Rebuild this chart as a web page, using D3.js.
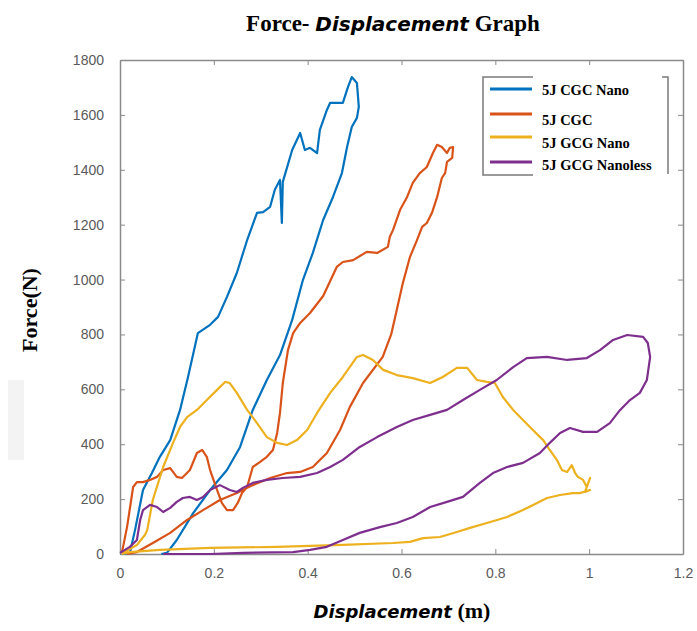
<!DOCTYPE html>
<html>
<head>
<meta charset="utf-8">
<script src="https://cdn.jsdelivr.net/npm/d3@7"></script>
<style>
  body { margin: 0; background: #fff; }
  .line { fill: none; stroke-width: 2.2; stroke-linejoin: round; }
  .tick-label { font-family: "Liberation Sans", Arial, sans-serif; font-size: 14px; fill: #5a5a5a; }
  .serif-bold { font-family: "Liberation Serif", "Times New Roman", serif; font-weight: bold; }
  .sans-italic { font-family: "DejaVu Sans", Verdana, sans-serif; font-weight: bold; font-style: italic; }
</style>
</head>
<body>
<div id="chart"></div>
<script>
// x ticks, y ticks
const xTicks = [0, 0.2, 0.4, 0.6, 0.8, 1, 1.2];
const yTicks = [0, 200, 400, 600, 800, 1000, 1200, 1400, 1600, 1800];

const seriesNames = ['5J CGC Nano', '5J CGC', '5J GCG Nano', '5J GCG Nanoless'];
const seriesColors = ['#0072BD', '#D95319', '#EDB120', '#7E2F8E'];

// [displacement (m), force (N)]
const cgcNano = [
  [0.004, 0], [0.021, 4], [0.032, 87], [0.049, 233], [0.068, 295], [0.085, 354],
  [0.107, 415], [0.128, 525], [0.145, 645], [0.166, 805], [0.192, 835], [0.209, 864],
  [0.228, 937], [0.249, 1024], [0.271, 1144], [0.292, 1243], [0.305, 1246], [0.320, 1265],
  [0.330, 1327], [0.341, 1363], [0.345, 1206], [0.347, 1356], [0.367, 1472], [0.384, 1534],
  [0.394, 1472], [0.405, 1480], [0.420, 1461], [0.426, 1545], [0.441, 1618], [0.448, 1644],
  [0.475, 1644], [0.486, 1702], [0.494, 1738], [0.505, 1716], [0.509, 1629],
  [0.505, 1589], [0.494, 1556], [0.484, 1483], [0.473, 1388], [0.454, 1301], [0.433, 1217],
  [0.411, 1097], [0.390, 999], [0.367, 853], [0.341, 725], [0.313, 634], [0.283, 525],
  [0.256, 390], [0.228, 306], [0.192, 233], [0.156, 149], [0.121, 51], [0.100, 4], [0.088, 0]
];

const cgc = [
  [0.004, 4], [0.015, 98], [0.028, 244], [0.036, 262], [0.049, 262], [0.064, 270],
  [0.079, 281], [0.092, 306], [0.107, 313], [0.121, 281], [0.132, 277], [0.149, 306],
  [0.164, 368], [0.175, 379], [0.185, 354], [0.192, 306], [0.207, 233], [0.217, 186],
  [0.228, 160], [0.241, 160], [0.251, 186], [0.260, 222], [0.271, 244], [0.283, 317],
  [0.298, 335], [0.313, 354], [0.326, 379], [0.335, 441], [0.341, 514], [0.347, 623],
  [0.358, 743], [0.369, 805], [0.384, 842], [0.405, 878], [0.433, 940], [0.462, 1046],
  [0.475, 1064], [0.497, 1071], [0.526, 1101], [0.548, 1097], [0.571, 1119], [0.575, 1155],
  [0.582, 1181], [0.597, 1254], [0.612, 1301], [0.624, 1352], [0.639, 1388], [0.654, 1410],
  [0.667, 1461], [0.676, 1491], [0.686, 1483], [0.697, 1461], [0.703, 1480], [0.710, 1483],
  [0.708, 1443], [0.697, 1429], [0.693, 1388], [0.686, 1370], [0.676, 1301], [0.665, 1243],
  [0.654, 1206], [0.644, 1192], [0.633, 1144], [0.618, 1082], [0.603, 988], [0.590, 890],
  [0.578, 800], [0.560, 718], [0.518, 623], [0.490, 536], [0.469, 452], [0.441, 368],
  [0.411, 317], [0.384, 299], [0.356, 295], [0.320, 277], [0.283, 251], [0.249, 222],
  [0.213, 197], [0.177, 160], [0.143, 124], [0.107, 77], [0.070, 40], [0.036, 7], [0.015, 0]
];

const gcgNano = [
  [0.006, 4], [0.036, 33], [0.053, 69], [0.058, 87], [0.070, 197], [0.092, 317],
  [0.113, 405], [0.128, 463], [0.143, 499], [0.164, 525], [0.185, 561], [0.207, 598],
  [0.224, 627], [0.234, 623], [0.249, 587], [0.271, 525], [0.292, 477], [0.313, 426],
  [0.335, 405], [0.356, 397], [0.377, 415], [0.399, 452], [0.420, 514], [0.448, 587],
  [0.475, 645], [0.505, 718], [0.518, 725], [0.539, 707], [0.561, 671], [0.590, 652],
  [0.624, 641], [0.661, 623], [0.688, 645], [0.718, 678], [0.740, 678], [0.761, 634],
  [0.782, 627], [0.799, 623], [0.816, 572], [0.838, 525], [0.859, 488], [0.880, 452],
  [0.902, 415], [0.916, 379], [0.931, 343], [0.942, 306], [0.953, 299], [0.963, 324],
  [0.970, 295], [0.976, 281], [0.987, 270], [0.995, 244], [1.002, 277], [0.991, 226],
  [1.002, 233], [0.980, 222], [0.965, 222], [0.938, 215], [0.910, 204], [0.889, 186],
  [0.859, 160], [0.825, 135], [0.782, 113], [0.746, 95], [0.718, 80], [0.682, 62],
  [0.646, 58], [0.618, 44], [0.582, 40], [0.475, 33], [0.335, 26], [0.192, 22],
  [0.085, 15], [0.021, 7], [0.004, 0]
];

const gcgNanoless = [
  [0.000, 4], [0.021, 26], [0.036, 51], [0.043, 124], [0.049, 160], [0.064, 179],
  [0.079, 171], [0.092, 153], [0.107, 168], [0.121, 190], [0.134, 204], [0.149, 208],
  [0.164, 197], [0.177, 208], [0.192, 233], [0.213, 251], [0.234, 233], [0.249, 226],
  [0.262, 241], [0.283, 259], [0.313, 270], [0.347, 277], [0.384, 281], [0.420, 295],
  [0.448, 317], [0.475, 343], [0.511, 390], [0.548, 426], [0.590, 463], [0.624, 488],
  [0.661, 507], [0.697, 525], [0.731, 561], [0.767, 598], [0.803, 634], [0.838, 681],
  [0.867, 714], [0.910, 718], [0.953, 707], [0.995, 714], [1.023, 743], [1.051, 780],
  [1.081, 798], [1.115, 791], [1.125, 769], [1.130, 718], [1.123, 634], [1.108, 587],
  [1.087, 561], [1.066, 525], [1.044, 477], [1.017, 445], [0.987, 445], [0.959, 459],
  [0.938, 441], [0.916, 405], [0.895, 368], [0.859, 332], [0.825, 317], [0.795, 295],
  [0.767, 259], [0.731, 208], [0.697, 190], [0.661, 171], [0.624, 135], [0.590, 113],
  [0.554, 98], [0.511, 77], [0.475, 51], [0.441, 26], [0.405, 15], [0.369, 7],
  [0.262, 4], [0.192, 0], [0.121, 0], [0.092, 0]
];

const seriesData = [cgcNano, cgc, gcgNano, gcgNanoless];

class ForceDisplacementChart {

    constructor(_config) {
        this.config = {
            parentElement: _config.parentElement,
            containerWidth: _config.containerWidth || 697,
            containerHeight: _config.containerHeight || 631,
            margin: _config.margin || { top: 60, right: 14, bottom: 77, left: 120 }
        };
        this.initVis();
    }

    /**
     * scales, svg and static text
     */
    initVis() {
        let vis = this;

        vis.width = vis.config.containerWidth - vis.config.margin.left - vis.config.margin.right;
        vis.height = vis.config.containerHeight - vis.config.margin.top - vis.config.margin.bottom;

        vis.svg = d3.select(vis.config.parentElement)
            .append('svg')
            .attr('width', vis.config.containerWidth)
            .attr('height', vis.config.containerHeight);

        vis.chart = vis.svg.append('g')
            .attr('transform', `translate(${vis.config.margin.left},${vis.config.margin.top})`);

        vis.xScale = d3.scaleLinear().domain([0, 1.2]).range([0, vis.width]);
        vis.yScale = d3.scaleLinear().domain([0, 1800]).range([vis.height, 0]);

        vis.line = d3.line()
            .x(d => vis.xScale(d[0]))
            .y(d => vis.yScale(d[1]));

        // faint smudge at the left edge of the original
        vis.svg.append('rect')
            .attr('x', 8).attr('y', 380).attr('width', 16).attr('height', 80)
            .attr('fill', '#f3f3f3');

        let title = vis.svg.append('text')
            .attr('x', 393)
            .attr('y', 31)
            .attr('text-anchor', 'middle')
            .style('font-size', '23px');
        title.append('tspan').attr('class', 'serif-bold').text('Force- ');
        title.append('tspan').attr('class', 'sans-italic').style('font-size', '20px').text('Displacement');
        title.append('tspan').attr('class', 'serif-bold').text(' Graph');

        let xLabel = vis.svg.append('text')
            .attr('x', 402)
            .attr('y', 618)
            .attr('text-anchor', 'middle');
        xLabel.append('tspan').attr('class', 'sans-italic').style('font-size', '18px').text('Displacement');
        xLabel.append('tspan').attr('class', 'serif-bold').style('font-size', '22px').text(' (m)');

        vis.svg.append('text')
            .attr('class', 'serif-bold')
            .attr('transform', 'translate(37,310) rotate(-90)')
            .attr('text-anchor', 'middle')
            .style('font-size', '22px')
            .text('Force(N)');
    }

    renderVis() {
        let vis = this;
        const axisColor = '#8a8a8a';

        // box with inward ticks on all four sides
        vis.chart.append('g')
            .attr('transform', `translate(0,${vis.height})`)
            .call(d3.axisBottom(vis.xScale).tickValues(xTicks).tickSizeInner(-5).tickSizeOuter(0).tickFormat(d3.format('')).tickPadding(14))
            .call(g => g.select('.domain').attr('stroke', axisColor).attr('stroke-width', 1.5))
            .call(g => g.selectAll('.tick line').attr('stroke', axisColor))
            .call(g => g.selectAll('.tick text').attr('class', 'tick-label'));

        vis.chart.append('g')
            .call(d3.axisTop(vis.xScale).tickValues(xTicks).tickSizeInner(-5).tickSizeOuter(0).tickFormat(''))
            .call(g => g.select('.domain').attr('stroke', axisColor).attr('stroke-width', 1.5))
            .call(g => g.selectAll('.tick line').attr('stroke', axisColor));

        vis.chart.append('g')
            .call(d3.axisLeft(vis.yScale).tickValues(yTicks).tickSizeInner(-5).tickSizeOuter(0).tickFormat(d3.format('d')).tickPadding(16))
            .call(g => g.select('.domain').attr('stroke', axisColor).attr('stroke-width', 1.5))
            .call(g => g.selectAll('.tick line').attr('stroke', axisColor))
            .call(g => g.selectAll('.tick text').attr('class', 'tick-label'));

        vis.chart.append('g')
            .attr('transform', `translate(${vis.width},0)`)
            .call(d3.axisRight(vis.yScale).tickValues(yTicks).tickSizeInner(-5).tickSizeOuter(0).tickFormat(''))
            .call(g => g.select('.domain').attr('stroke', axisColor).attr('stroke-width', 1.5))
            .call(g => g.selectAll('.tick line').attr('stroke', axisColor));

        vis.chart.selectAll('.line.series')
            .data(seriesData)
            .join('path')
            .attr('class', 'line series')
            .attr('d', vis.line)
            .style('stroke', (d, i) => seriesColors[i]);

        // legend, drawn as two brackets like the pasted image
        let legend = vis.svg.append('g');
        legend.append('path')
            .attr('d', 'M533,77 H483 V175 H533')
            .attr('fill', 'none').attr('stroke', '#7a7a7a').attr('stroke-width', 1.5);
        legend.append('path')
            .attr('d', 'M662,77 H668 V174')
            .attr('fill', 'none').attr('stroke', '#7a7a7a').attr('stroke-width', 1.5);

        const lineY = [89, 114, 137, 162];
        const textY = [95, 125, 148, 170];
        seriesNames.forEach((name, i) => {
            legend.append('line')
                .attr('x1', 490).attr('x2', 532)
                .attr('y1', lineY[i]).attr('y2', lineY[i])
                .attr('stroke', seriesColors[i]).attr('stroke-width', 3);
            legend.append('text')
                .attr('class', 'serif-bold')
                .attr('x', 542).attr('y', textY[i])
                .style('font-size', '14.5px')
                .text(name);
        });
    }
}

const chart = new ForceDisplacementChart({ parentElement: '#chart' });
chart.renderVis();
</script>
</body>
</html>
